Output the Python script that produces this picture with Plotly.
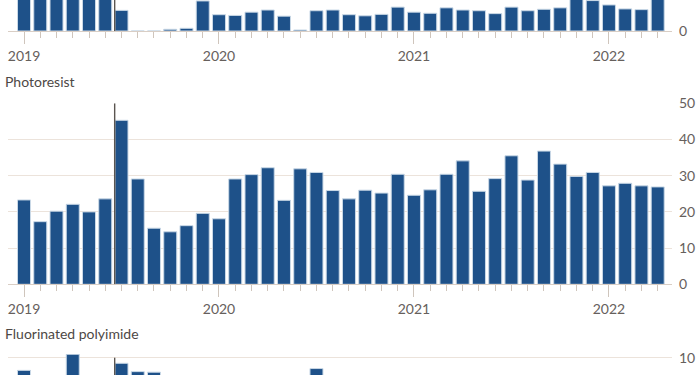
import plotly.graph_objects as go

# Months Jan 2019 .. Apr 2022 (index 0..39)
month_index = list(range(40))
year_ticks = [0, 12, 24, 36]
year_labels = ["2019", "2020", "2021", "2022"]

# Top panel (clipped in the crop) - values in arbitrary units
top_values = [12.0, 13.0, 12.5, 14.0, 13.0, 12.0, 5.7, 0.0, 0.0, 0.47,
              0.75, 8.3, 4.5, 4.3, 5.2, 5.8, 4.1, 0.28, 5.6, 5.8,
              4.5, 4.2, 4.6, 6.6, 5.2, 4.9, 6.4, 5.8, 5.6, 4.8,
              6.6, 5.6, 6.0, 6.4, 9.5, 8.4, 7.2, 6.1, 5.9, 10.0]

photoresist = [23.3, 17.3, 20.2, 22.1, 20.0, 23.6, 45.3, 29.1, 15.5, 14.5,
               16.2, 19.6, 18.1, 29.1, 30.3, 32.2, 23.2, 31.9, 30.9, 25.9,
               23.6, 26.0, 25.2, 30.4, 24.6, 26.1, 30.4, 34.1, 25.7, 29.2,
               35.5, 28.8, 36.8, 33.2, 29.8, 30.9, 27.2, 27.9, 27.2, 26.9]

fluorinated = [9.3, 8.0, 7.5, 10.19, 8.5, 7.0, 9.69, 9.23, 9.2, 6.0,
               5.5, 6.5, 7.0, 6.0, 5.0, 6.5, 7.5, 8.0, 9.4, 7.0,
               6.5, 6.0, 7.0, 7.5, 6.0, 5.5, 6.5, 7.0, 6.0, 5.5,
               6.0, 7.0, 6.5, 6.0, 5.5, 6.0, 7.0, 6.5, 6.0, 5.5]

panel_titles = ["Photoresist", "Fluorinated polyimide"]

H = 375.0
W = 700.0
BAR = "#1e5189"
OUT = "#c9d8e6"
GRID = "#ece3db"
BASE = "#d9cec5"
TICK = "#cfc5bc"
TXT = "#66605c"
FONT = "Lato"

def fy(px):
    return 1 - px / H

fig = go.Figure()
for vals, xa, ya in [(top_values, "x", "y"), (photoresist, "x2", "y2"), (fluorinated, "x3", "y3")]:
    fig.add_trace(go.Bar(x=month_index, y=vals, xaxis=xa, yaxis=ya, width=0.8,
                         marker=dict(color=BAR, line=dict(color=OUT, width=1)),
                         showlegend=False, hoverinfo="skip"))

xdom = [8 / W, 672 / W]
xrange_ = [-0.985, 39.88]

def xaxis_cfg(anchor, show):
    d = dict(domain=xdom, range=xrange_, anchor=anchor, showgrid=False, zeroline=False,
             fixedrange=True, automargin=False)
    if show:
        d.update(showline=True, linecolor=BASE, linewidth=1.3,
                 ticks="outside", ticklen=12, tickwidth=1, tickcolor=TICK,
                 tickmode="array", tickvals=year_ticks, ticktext=year_labels,
                 tickfont=dict(family=FONT, size=14, color=TXT),
                 minor=dict(ticks="outside", ticklen=6, tickwidth=1, tickcolor=TICK,
                            tickmode="linear", tick0=0, dtick=1))
    else:
        d.update(showline=False, showticklabels=False, ticks="")
    return d

top_ppu = 3.62
fl_ppu = 18.1

ycommon = dict(side="right", zeroline=False, ticks="", ticklabelstandoff=6,
               tickfont=dict(family=FONT, size=14, color=TXT), fixedrange=True,
               automargin=False, tickmode="array")

fig.update_layout(
    width=700, height=375,
    margin=dict(l=0, r=0, t=0, b=0, autoexpand=False),
    paper_bgcolor="white", plot_bgcolor="white",
    bargap=0.2,
    xaxis=xaxis_cfg("y", True),
    xaxis2=xaxis_cfg("y2", True),
    xaxis3=xaxis_cfg("y3", False),
    yaxis=dict(domain=[fy(31), 1], range=[0, 31 / top_ppu], anchor="x",
               tickvals=[0], showgrid=False, **ycommon),
    yaxis2=dict(domain=[fy(284.3), fy(103.3)], range=[0, 50], anchor="x2",
                tickvals=[0, 10, 20, 30, 40, 50], showgrid=True,
                gridcolor=GRID, gridwidth=1.3, **ycommon),
    yaxis3=dict(domain=[0, fy(357.7 - 0.2 * fl_ppu)], range=[10 - 17.3 / fl_ppu, 10.2],
                anchor="x3", tickvals=[10], showgrid=True,
                gridcolor=GRID, gridwidth=1.3, **ycommon),
)

vx = 5.58
line = dict(color="#5a5550", width=1.4)
fig.add_shape(type="line", xref="x", yref="y domain", x0=vx, x1=vx, y0=0, y1=1, line=line)
fig.add_shape(type="line", xref="x2", yref="y2", x0=vx, x1=vx, y0=0, y1=50, line=line)
fig.add_shape(type="line", xref="x3", yref="y3", x0=vx, x1=vx, y0=0, y1=10, line=line)

for title, ypx in zip(panel_titles, [81.7, 333.3]):
    fig.add_annotation(text=title, xref="paper", yref="paper", x=3 / W, y=fy(ypx),
                       xanchor="left", yanchor="middle", showarrow=False,
                       font=dict(family=FONT, size=14, color="#4d4845"))

fig.write_html("out.html", config={"displayModeBar": False},
               post_script="document.body.style.margin='0';document.body.style.overflow='hidden';")
